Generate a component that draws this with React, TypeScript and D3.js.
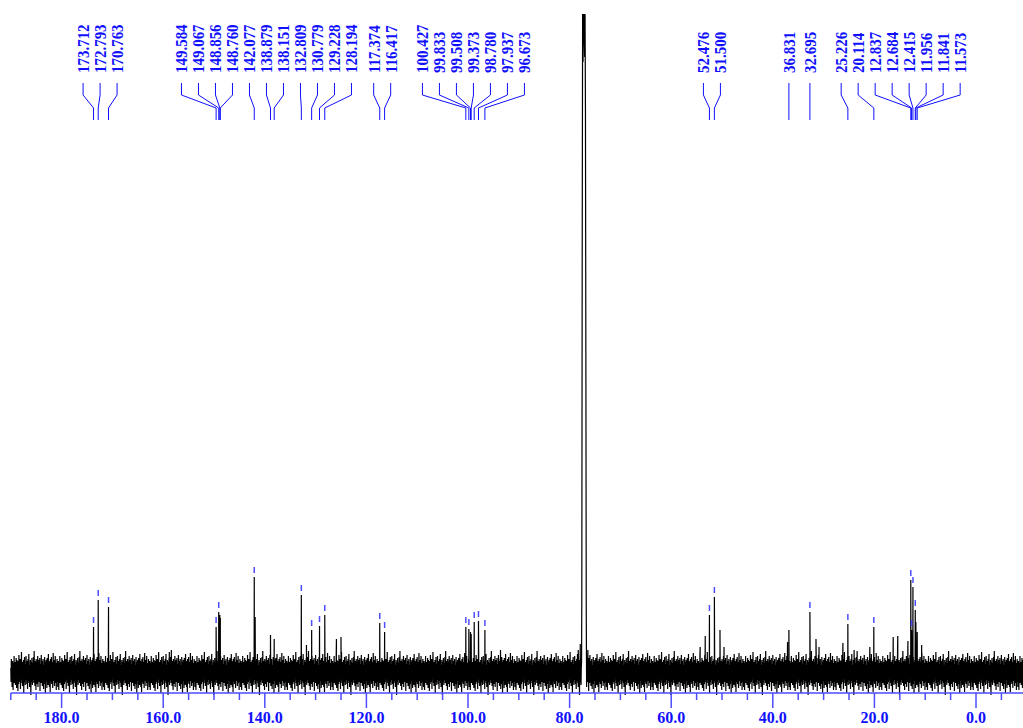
import { useEffect, useRef } from "react";
import * as d3 from "d3";

const width = 1023;
const height = 728;

// picked peaks (ppm) with their heights above the baseline
const peakShifts = [
  173.712, 172.793, 170.763, 149.584, 149.067, 148.856, 148.76, 142.077, 138.879, 138.151,
  132.809, 130.779, 129.228, 128.194, 117.374, 116.417, 100.427, 99.833, 99.508, 99.373,
  98.78, 97.937, 96.673, 52.476, 51.5, 36.831, 32.695, 25.226, 20.114, 12.837,
  12.684, 12.415, 11.956, 11.841, 11.573,
];
const peakHeights = [
  45, 72, 65, 45, 60, 57, 54, 95, 37, 33,
  77, 42, 46, 57, 49, 40, 45, 43, 40, 38,
  50, 51, 42, 57, 75, 42, 60, 48, 45, 92,
  42, 85, 62, 50, 40,
];
// which picked peaks show a small tick above them
const peakMarked = [
  1, 1, 1, 1, 1, 0, 0, 1, 0, 0,
  1, 1, 1, 1, 1, 1, 1, 1, 0, 0,
  1, 1, 1, 1, 1, 0, 1, 1, 1, 1,
  1, 1, 1, 0, 0,
];

// small peaks that were not picked
const otherShifts = [
  158.8, 158.4, 141.9, 131.8, 125.9, 125.0, 93.6, 78.3, 77.9, 76.4,
  76.1, 54.3, 53.3, 50.4, 49.6, 37.1, 31.5, 30.9, 26.2, 24.0,
  20.9, 16.3, 15.4, 13.4, 10.7,
];
const otherHeights = [
  20, 22, 55, 27, 33, 35, 22, 22, 28, 22,
  14, 25, 36, 42, 25, 30, 33, 25, 29, 22,
  25, 35, 36, 31, 27,
];

// CDCl3 solvent triplet
const solventShifts = [77.6, 77.52, 77.44, 77.36, 77.28, 77.2, 77.12, 77.04, 76.96, 76.88, 76.8, 76.72];
const solventHeights = [70, 420, 658, 610, 640, 658, 650, 615, 658, 560, 320, 55];

// baseline noise samples
const noise = [
  4, -10, 13, -5, 8, -15, 3, 11, -7, -18, 9, 1, -4, 16, -11, 5, -2, 10, -13, 6,
  -6, 14, -3, -16, 12, -9, 0, 7, -19, 11, 4, -12, 17, -5, -1, 9, -10, 13, -17, 2,
  6, -7, 20, -4, -11, 5, -14, 10, 1, -6, 12, -21, 7, -3, 15, -10, 4, -13, 8, -2,
  16, -8, 3, -12, 11, -5, -17, 6, 13, -9, 0, 18, -11, 4, -15, 7, -3, 12, -6, -23,
  10, 1, -10, 14, -4, -13, 5, 9, -8, 15, -1, -11, 21, -5, 3, -14, 11, -9, 6, -18,
  13, -2, -7, 10, -12, 4, 16, -15, 1, 7, -10, 12, -5, -1, 14, -19, 8, -4, 5, -11,
  17, -6, 0, 11, -14, 3, -8, 13, -3, -17, 7, 2, -12, 15, -7, 10, -21, 5, -2, 12,
  -9, 6, -16, 14, 2, -5, 9, -13, 18, -8, -1, 11, -15, 4, 8, -20, 13, -3, 6, -10,
  15, -12, 3, -7, 10, -16, 1, 19, -9, 5, -4, 12, -14, 7, -2, 16, -11, 0, 9, -18,
];

const ppmMax = 190;
const ppmMin = -9.25;
const noiseStep = 0.05;

// spread labels so they keep a minimum gap; clusters are centred on their peaks
function spreadLabels(xs: number[], gap: number) {
  let clusters = xs.map((x) => ({ n: 1, sum: x, c: x }));
  let merged = true;
  while (merged) {
    merged = false;
    for (let i = 0; i < clusters.length - 1; i++) {
      const a = clusters[i];
      const b = clusters[i + 1];
      if (a.c + ((a.n - 1) * gap) / 2 + gap > b.c - ((b.n - 1) * gap) / 2) {
        const n = a.n + b.n;
        const sum = a.sum + b.sum;
        clusters.splice(i, 2, { n, sum, c: sum / n });
        merged = true;
        break;
      }
    }
  }
  const out: number[] = [];
  clusters.forEach((cl) => {
    for (let k = 0; k < cl.n; k++) out.push(cl.c + gap * (k - (cl.n - 1) / 2));
  });
  return out;
}

const Spectrum = () => {
  const chartRef = useRef<SVGSVGElement>(null);

  useEffect(() => {
    drawChart();
  }, []);

  const drawChart = () => {
    const svg = d3.select(chartRef.current);
    svg.selectAll("*").remove();

    const x = d3.scaleLinear().domain([ppmMax, ppmMin]).range([10.8, width]);
    const y = d3.scaleLinear().domain([0, 100]).range([672, 572]);
    const axisY = 693;

    const blue = "#1010ff";
    const axisBlue = "#4d4dff";

    // build the trace
    const pts: { ppm: number; v: number }[] = [];
    const nSteps = Math.floor((ppmMax - ppmMin) / noiseStep);
    for (let i = 0; i <= nSteps; i++) {
      const ppm = ppmMax - i * noiseStep;
      if (ppm < 77.64 && ppm > 76.68) continue;
      pts.push({ ppm, v: noise[i % noise.length] });
    }
    peakShifts.forEach((p, i) => pts.push({ ppm: p, v: peakHeights[i] }));
    otherShifts.forEach((p, i) => pts.push({ ppm: p, v: otherHeights[i] }));
    solventShifts.forEach((p, i) => pts.push({ ppm: p, v: solventHeights[i] }));
    pts.sort((a, b) => b.ppm - a.ppm);

    const line = d3
      .line<{ ppm: number; v: number }>()
      .x((d) => x(d.ppm))
      .y((d) => y(d.v));

    svg
      .append("path")
      .attr("d", line(pts))
      .attr("fill", "none")
      .attr("stroke", "#000")
      .attr("stroke-width", 1.2);

    // axis
    svg
      .append("line")
      .attr("x1", x(ppmMax))
      .attr("x2", width)
      .attr("y1", axisY)
      .attr("y2", axisY)
      .attr("stroke", axisBlue)
      .attr("stroke-width", 1.5);

    const minor = d3.range(-5, 191, 5);
    svg
      .selectAll(".tick")
      .data(minor)
      .enter()
      .append("line")
      .attr("x1", (d) => x(d))
      .attr("x2", (d) => x(d))
      .attr("y1", axisY)
      .attr("y2", (d) => axisY + (d % 20 === 0 ? 15 : 7))
      .attr("stroke", axisBlue)
      .attr("stroke-width", 1.5);

    const major = d3.range(0, 181, 20);
    svg
      .selectAll(".tickLabel")
      .data(major)
      .enter()
      .append("text")
      .attr("x", (d) => x(d))
      .attr("y", 723)
      .attr("text-anchor", "middle")
      .attr("font-family", "Liberation Serif, serif")
      .attr("font-weight", "bold")
      .attr("font-size", 16)
      .attr("fill", blue)
      .text((d) => d3.format(".1f")(d));

    // peak markers
    svg
      .selectAll(".marker")
      .data(peakShifts.filter((d, i) => peakMarked[i]))
      .enter()
      .append("line")
      .attr("x1", (d) => x(d))
      .attr("x2", (d) => x(d))
      .attr("y1", (d) => y(peakHeights[peakShifts.indexOf(d)]) - 10)
      .attr("y2", (d) => y(peakHeights[peakShifts.indexOf(d)]) - 4)
      .attr("stroke", axisBlue)
      .attr("stroke-width", 1.5);

    // labels and leaders
    const peakX = peakShifts.map((p) => x(p));
    const labelX = spreadLabels(peakX, 17);

    svg
      .selectAll(".leader")
      .data(peakShifts)
      .enter()
      .append("polyline")
      .attr("points", (d, i) =>
        [
          [labelX[i], 83],
          [labelX[i], 95],
          [peakX[i], 108],
          [peakX[i], 120],
        ]
          .map((p) => p.join(","))
          .join(" ")
      )
      .attr("fill", "none")
      .attr("stroke", blue)
      .attr("stroke-width", 1);

    svg
      .selectAll(".peakLabel")
      .data(peakShifts)
      .enter()
      .append("text")
      .attr("transform", (d, i) => `translate(${labelX[i]},73) rotate(-90) scale(0.88,1)`)
      .attr("dy", "0.35em")
      .attr("font-family", "Liberation Serif, serif")
      .attr("font-weight", "bold")
      .attr("font-size", 17)
      .attr("fill", blue)
      .text((d) => d3.format(".3f")(d));
  };

  return (
    <svg
      ref={chartRef}
      width={width}
      height={height}
      style={{ position: "absolute", left: 0, top: 0, background: "#fff" }}
    ></svg>
  );
};

export default function App() {
  return <Spectrum />;
}
